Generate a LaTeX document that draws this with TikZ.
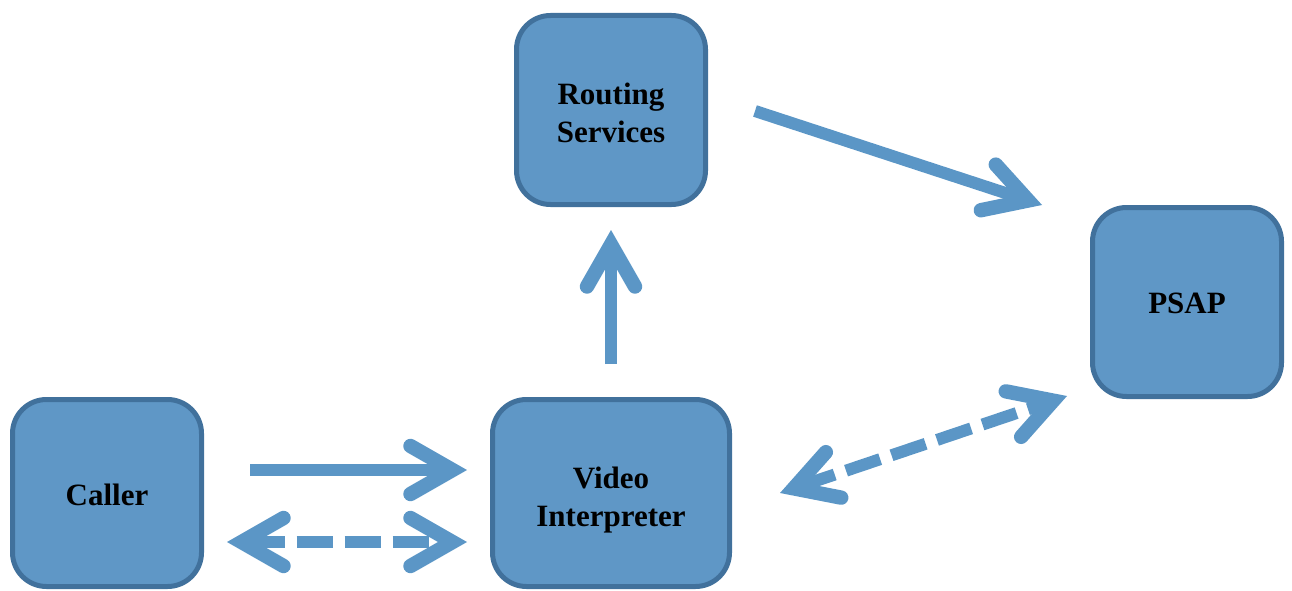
\documentclass[tikz,border=0pt]{standalone}
\usepackage{fontspec}
\setmainfont{Liberation Serif}
\usetikzlibrary{arrows.meta}
\definecolor{boxfill}{HTML}{5F97C6}
\definecolor{boxline}{HTML}{41719C}
\definecolor{flow}{HTML}{5B96C6}
\tikzset{
  x=1pt, y=-1pt,
  block/.style={draw=boxline, fill=boxfill, line width=5pt, rounded corners=34pt,
    minimum height=189pt, inner sep=0pt},
  caption/.style={align=center, inner sep=0pt,
    font=\fontsize{31}{38}\selectfont\bfseries},
  barbhead/.tip={Straight Barb[length=42pt, width=48pt, line width=0pt 1.2, line cap=round, line join=miter]},
  link/.style={draw=flow, line width=12pt, -{barbhead}},
  duplex/.style={draw=flow, line width=12pt, {barbhead}-{barbhead}, dash pattern=on 36pt off 12pt},
}
\begin{document}
\begin{tikzpicture}
\useasboundingbox (0,0) rectangle (1292,591);
\node[block, minimum width=189pt,
  label={[caption, name=routing-text, yshift=-3pt]center:{Routing\\Services}}] (routing) at (611,110) {};
\node[block, minimum width=189pt,
  label={[caption, name=psap-text, yshift=-1pt]center:PSAP}] (psap) at (1187,302) {};
\node[block, minimum width=189pt, minimum height=187pt,
  label={[caption, name=caller-text, yshift=-2pt]center:Caller}] (caller) at (107,493) {};
\node[block, minimum width=237pt, minimum height=187pt,
  label={[caption, name=vi-text, yshift=-7pt]center:{Video\\Interpreter}}] (vi) at (611,493) {};

\coordinate (rs) at (755,111);
\coordinate (rt) at (1042,205);
\coordinate (vs) at (611,364);
\coordinate (vt) at (611,230);
\coordinate (cs) at (250,470);
\coordinate (ct) at (467,470);
\coordinate (dl) at (227,542);
\coordinate (dr) at (467,542);
\coordinate (pl) at (780,493);
\coordinate (pr) at (1067,396);

\draw[link] (rs) -- (rt);
\draw[link] (vs) -- (vt);
\draw[link] (cs) -- (ct);
\draw[duplex] (dl) -- (dr);
\draw[duplex] (pl) -- (pr);
\end{tikzpicture}
\end{document}
